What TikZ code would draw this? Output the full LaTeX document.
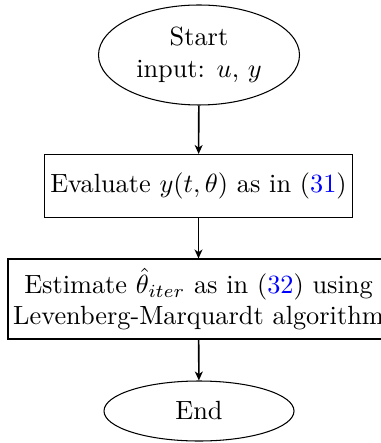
\documentclass[tikz,border=0pt]{standalone}
\usetikzlibrary{shapes.geometric,arrows.meta}
\begin{document}
\begin{tikzpicture}[x=0.38pt,y=-0.38pt,
  term/.style={draw, ellipse, inner sep=0pt, align=center},
  proc/.style={draw, rectangle, inner sep=0pt, align=center},
  flow/.style={-{Stealth[length=3.4pt,width=3pt,inset=1pt]}, line width=0.6pt}]
\useasboundingbox (0,0) rectangle (380,443);
\node[term, minimum width={201*0.38pt}, minimum height={100*0.38pt}] (start) at (199,55)
  {Start\\input: $u$, $y$};
\node[proc, minimum width={308*0.38pt}, minimum height={63*0.38pt}] (eval) at (198.5,186)
  {Evaluate $y(t,\theta)$ as in (\textcolor{blue}{31})};
\node[proc, minimum width={381*0.38pt}, minimum height={80*0.38pt}] (est) at (198.5,299)
  {Estimate $\hat{\theta}_{iter}$ as in (\textcolor{blue}{32}) using\\Levenberg-Marquardt algorithm};
\node[term, minimum width={190*0.38pt}, minimum height={60*0.38pt}] (end) at (199,411) {End};
\draw[flow] (start) -- (eval);
\draw[flow] (eval) -- (est);
\draw[flow] (est) -- (end);
\end{tikzpicture}
\end{document}
